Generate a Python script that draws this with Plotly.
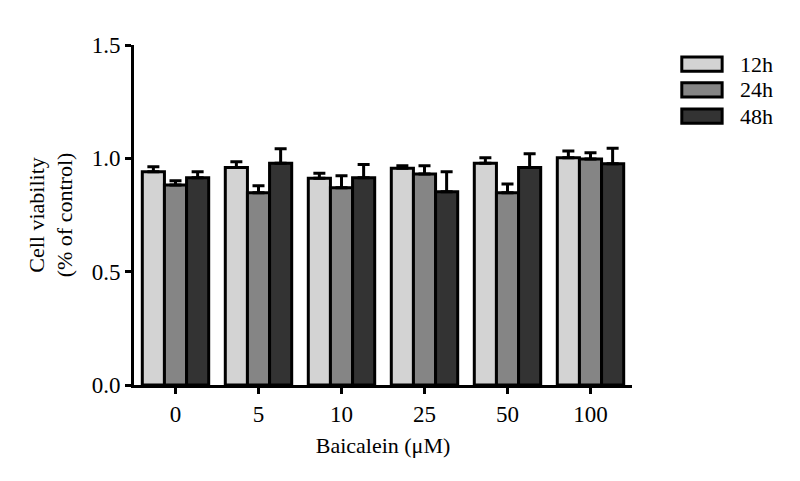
import plotly.graph_objects as go

categories = ["0", "5", "10", "25", "50", "100"]
series_names = ["12h", "24h", "48h"]
values_12h = [0.941, 0.960, 0.912, 0.956, 0.978, 1.003]
values_24h = [0.882, 0.848, 0.870, 0.931, 0.848, 0.997]
values_48h = [0.914, 0.978, 0.914, 0.853, 0.960, 0.976]
err_12h = [0.022, 0.025, 0.022, 0.011, 0.025, 0.029]
err_24h = [0.019, 0.031, 0.053, 0.036, 0.039, 0.028]
err_48h = [0.027, 0.064, 0.059, 0.088, 0.060, 0.068]
colors = ["#d3d3d3", "#858585", "#333333"]

values = [values_12h, values_24h, values_48h]
errors = [err_12h, err_24h, err_48h]

FONT = "Liberation Serif"
FS_TICK = 23
FS_TITLE = 22
FS_LEG = 22

fig = go.Figure()
for name, vals, errs, col in zip(series_names, values, errors, colors):
    fig.add_trace(go.Bar(
        x=categories, y=vals, name=name,
        marker=dict(color=col, line=dict(color="black", width=3)),
        error_y=dict(type="data", array=errs, arrayminus=[0] * len(errs),
                     symmetric=False, color="black", thickness=3, width=6),
        showlegend=False,
    ))

# custom legend (large swatches like the reference)
legend_y = [0.944, 0.868, 0.791]
for name, col, yc in zip(series_names, colors, legend_y):
    fig.add_shape(type="rect", xref="paper", yref="paper",
                  x0=1.100, x1=1.181, y0=yc - 0.021, y1=yc + 0.021,
                  fillcolor=col, line=dict(color="black", width=3))
    fig.add_annotation(xref="paper", yref="paper", x=1.212, y=yc,
                       text=name, showarrow=False, xanchor="left",
                       yanchor="middle", font=dict(family=FONT, size=FS_LEG, color="black"))

fig.update_layout(
    width=784, height=465,
    margin=dict(l=126, r=160, t=37, b=88),
    paper_bgcolor="white", plot_bgcolor="white",
    barmode="group", bargap=0.2, bargroupgap=0,
    font=dict(family=FONT, size=FS_TICK, color="black"),
)
fig.update_xaxes(
    type="category", range=[-0.5, 5.5],
    showline=True, linecolor="black", linewidth=3,
    ticks="outside", ticklen=6, tickwidth=3, tickcolor="black",
    tickfont=dict(family=FONT, size=FS_TICK),
    showgrid=False, zeroline=False,
    title=dict(text="Baicalein (μM)", font=dict(family=FONT, size=FS_TITLE), standoff=13),
)
fig.update_yaxes(
    range=[0, 1.5], tickvals=[0, 0.5, 1.0, 1.5], ticktext=["0.0", "0.5", "1.0", "1.5"],
    showline=True, linecolor="black", linewidth=3,
    ticks="outside", ticklen=6, tickwidth=3, tickcolor="black",
    tickfont=dict(family=FONT, size=FS_TICK),
    showgrid=False, zeroline=False,
    title=dict(text="Cell viability<br>(% of control)", font=dict(family=FONT, size=FS_TITLE), standoff=13),
)

fig.write_html("out.html")
